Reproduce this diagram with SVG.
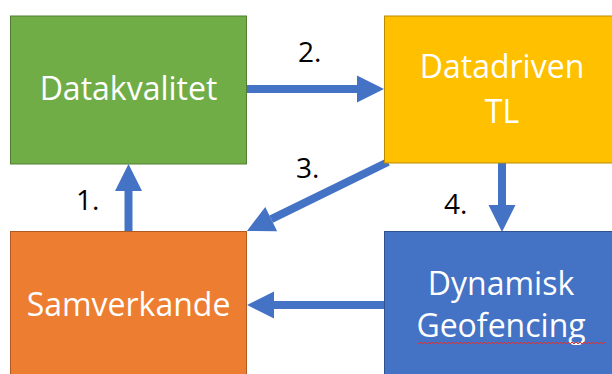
<svg xmlns="http://www.w3.org/2000/svg" width="612" height="374" viewBox="0 0 612 374">
<defs>
<style>
.node text{font-family:"Open Sans","Noto Sans",sans-serif;font-size:32px;fill:#fff;text-anchor:middle}
.lbl{font-family:"Open Sans","Noto Sans",sans-serif;font-size:28px;fill:#000}
.conn line{stroke:#4472C4;stroke-width:8;fill:none}
</style>
<marker id="ah" markerUnits="userSpaceOnUse" markerWidth="28" markerHeight="28" refX="0" refY="13.5" orient="auto" overflow="visible">
<path d="M0,0 L27,13.5 L0,27 z" fill="#4472C4"/>
</marker>
</defs>
<rect width="612" height="374" fill="#fff"/>
<g id="connectors" class="conn">
<line x1="247" y1="89" x2="357" y2="89" marker-end="url(#ah)"/>
<line x1="128.5" y1="231" x2="128.5" y2="191" marker-end="url(#ah)"/>
<line x1="502" y1="163" x2="502" y2="205" marker-end="url(#ah)"/>
<line x1="384" y1="305" x2="274" y2="305" marker-end="url(#ah)"/>
<line x1="388" y1="162" x2="271.2" y2="219.1" marker-end="url(#ah)"/>
</g>
<g id="labels">
<text class="lbl" x="298" y="62">2.</text>
<text class="lbl" x="76" y="210">1.</text>
<text class="lbl" x="296" y="178">3.</text>
<text class="lbl" x="444" y="214">4.</text>
</g>
<g id="datakvalitet" class="node">
<rect x="10.5" y="16" width="236" height="148" fill="#70AD47" stroke="#507E32" stroke-width="1"/>
<text x="128.5" y="100">Datakvalitet</text>
</g>
<g id="datadriven" class="node">
<rect x="384.5" y="16" width="240" height="147" fill="#FFC000" stroke="#BC8C00" stroke-width="1"/>
<text x="502" y="78">Datadriven</text>
<text x="502" y="123">TL</text>
</g>
<g id="samverkande" class="node">
<rect x="10.5" y="231.5" width="236" height="150" fill="#ED7D31" stroke="#AE5A21" stroke-width="1"/>
<text x="128.5" y="316">Samverkande</text>
</g>
<g id="geofencing" class="node">
<rect x="384.5" y="231.5" width="240" height="150" fill="#4472C4" stroke="#2F528F" stroke-width="1"/>
<text x="501" y="295">Dynamisk</text>
<text x="501" y="337">Geofencing</text>
<path d="M418,344 l2,-2 l2,2 l2,-2 l2,2 l2,-2 l2,2 l2,-2 l2,2 l2,-2 l2,2 l2,-2 l2,2 l2,-2 l2,2 l2,-2 l2,2 l2,-2 l2,2 l2,-2 l2,2 l2,-2 l2,2 l2,-2 l2,2 l2,-2 l2,2 l2,-2 l2,2 l2,-2 l2,2 l2,-2 l2,2 l2,-2 l2,2 l2,-2 l2,2 l2,-2 l2,2 l2,-2 l2,2 l2,-2 l2,2 l2,-2 l2,2 l2,-2 l2,2 l2,-2 l2,2 l2,-2 l2,2 l2,-2 l2,2 l2,-2 l2,2 l2,-2 l2,2 l2,-2 l2,2 l2,-2 l2,2 l2,-2 l2,2 l2,-2 l2,2 l2,-2 l2,2 l2,-2 l2,2 l2,-2 l2,2 l2,-2 l2,2 l2,-2 l2,2 l2,-2 l2,2 l2,-2 l2,2 l2,-2 l2,2 l2,-2 l2,2 l2,-2 l2,2 l2,-2 l2,2 l2,-2 l2,2 l2,-2 l2,2 l2,-2 l2,2 l2,-2 l2,2" fill="none" stroke="#E03030" stroke-width="1"/>
</g>
</svg>
